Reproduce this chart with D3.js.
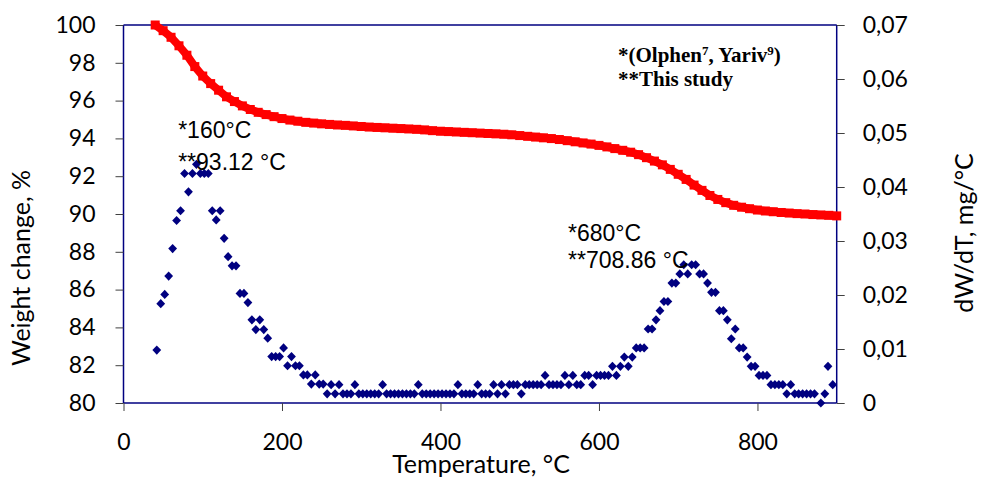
<!DOCTYPE html>
<html>
<head>
<meta charset="utf-8">
<script src="https://cdn.jsdelivr.net/npm/d3@7"></script>
<style>
body{margin:0;background:#fff}
text{fill:#000}
</style>
</head>
<body>
<svg id="chart" width="982" height="483"></svg>
<script>
// weight curve (TG), every 10 °C
var tgTemp = [40,50,60,70,80,90,100,110,120,130,
  140,150,160,170,180,190,200,210,220,230,
  240,250,260,270,280,290,300,310,320,330,
  340,350,360,370,380,390,400,410,420,430,
  440,450,460,470,480,490,500,510,520,530,
  540,550,560,570,580,590,600,610,620,630,
  640,650,660,670,680,690,700,710,720,730,
  740,750,760,770,780,790,800,810,820,830,
  840,850,860,870,880,890,900]
var tgWeight = [100.0,99.7,99.35,98.9,98.4,97.8,97.3,96.9,96.55,96.2,
  95.95,95.72,95.53,95.38,95.26,95.15,95.05,94.97,94.91,94.85,
  94.81,94.77,94.74,94.71,94.69,94.66,94.63,94.6,94.58,94.56,
  94.54,94.52,94.5,94.48,94.45,94.41,94.38,94.36,94.34,94.32,
  94.3,94.28,94.26,94.24,94.22,94.19,94.15,94.11,94.07,94.03,
  93.99,93.94,93.88,93.82,93.76,93.7,93.63,93.55,93.46,93.37,
  93.27,93.14,92.98,92.8,92.6,92.36,92.1,91.83,91.53,91.25,
  90.98,90.77,90.6,90.46,90.36,90.28,90.21,90.16,90.12,90.08,
  90.05,90.02,90.0,89.97,89.95,89.93,89.9]

// derivative (DTG), mg/°C
var dtgTemp = [42,47,52,57,62,67,72,77,82,87,
  92,97,102,107,112,117,122,127,132,137,
  142,147,152,157,162,167,172,177,182,187,
  192,197,202,207,212,217,222,227,232,237,
  242,247,252,257,262,267,272,277,282,287,
  292,297,302,307,312,317,322,327,332,337,
  342,347,352,357,362,367,372,377,382,387,
  392,397,402,407,412,417,422,427,432,437,
  442,447,452,457,462,467,472,477,482,487,
  492,497,502,507,512,517,522,527,532,537,
  542,547,552,557,562,567,572,577,582,587,
  592,597,602,607,612,617,622,627,632,637,
  642,647,652,657,662,667,672,677,682,687,
  692,697,702,707,712,717,722,727,732,737,
  742,747,752,757,762,767,772,777,782,787,
  792,797,802,807,812,817,822,827,832,837,
  842,847,852,857,862,867,872,880,885,889,895]
var dtgRate = [.0098,.0184,.0201,.0235,.0286,.0338,.0356,.0425,.0391,.0425,
  .0442,.0425,.0425,.0425,.0356,.0339,.0356,.0305,.0271,.0254,
  .0254,.0203,.0203,.0186,.0154,.0136,.0154,.0136,.0120,.0086,
  .0086,.0086,.0102,.0069,.0086,.0069,.0069,.0052,.0052,.0035,
  .0052,.0035,.0035,.0017,.0034,.0017,.0034,.0017,.0017,.0017,
  .0034,.0017,.0017,.0017,.0017,.0017,.0017,.0034,.0017,.0017,
  .0017,.0017,.0017,.0017,.0017,.0017,.0034,.0017,.0017,.0017,
  .0017,.0017,.0017,.0017,.0017,.0017,.0034,.0017,.0017,.0017,
  .0017,.0034,.0017,.0017,.0017,.0034,.0017,.0034,.0017,.0034,
  .0034,.0034,.0017,.0034,.0034,.0034,.0034,.0034,.0051,.0034,
  .0034,.0034,.0034,.0051,.0034,.0051,.0034,.0034,.0051,.0051,
  .0034,.0051,.0051,.0051,.0051,.0068,.0051,.0068,.0085,.0068,
  .0085,.0102,.0102,.0102,.0137,.0137,.0154,.0171,.0188,.0188,
  .0222,.0222,.0239,.0256,.0239,.0256,.0256,.0239,.0239,.0222,
  .0205,.0205,.0171,.0171,.0154,.0119,.0137,.0102,.0102,.0085,
  .0068,.0068,.0051,.0051,.0051,.0034,.0034,.0034,.0034,.0017,
  .0034,.0017,.0017,.0017,.0017,.0017,.0017,0,.0017,.0068,.0034]

var xTicks = [0,200,400,600,800]
var leftTicks = [80,82,84,86,88,90,92,94,96,98,100]
var rightTicks = [0,0.01,0.02,0.03,0.04,0.05,0.06,0.07]

// peak notes, anchored in data units (°C, weight %)
var peakNotes = [
  {t: 69, w: 94.02, text: "*160°C"},
  {t: 69, w: 92.35, text: "**93.12 °C"},
  {t: 561, w: 88.55, text: "*680°C"},
  {t: 561, w: 87.15, text: "**708.86 °C"}
]

var svg = d3.select("#chart")
var navy = "#000080"
var tickFont = "Lato, 'Open Sans', sans-serif"

var x = d3.scaleLinear().domain([0, 900]).range([123.5, 836.7])
var yL = d3.scaleLinear().domain([80, 100]).range([403, 25])
var yR = d3.scaleLinear().domain([0, 0.07]).range([403, 25])

//axes
var gx = svg.append("g").attr("transform", "translate(0,403)")
  .call(d3.axisBottom(x).tickValues(xTicks).tickSize(8).tickPadding(23).tickFormat(d3.format("d")))
var gl = svg.append("g").attr("transform", "translate(123.5,0)")
  .call(d3.axisLeft(yL).tickValues(leftTicks).tickSize(8).tickPadding(20).tickFormat(d3.format("d")))
var gr = svg.append("g").attr("transform", "translate(836.7,0)")
  .call(d3.axisRight(yR).tickValues(rightTicks).tickSize(8).tickPadding(18)
    .tickFormat(function(d){ return d == 0 ? "0" : d.toFixed(2).replace(".", ",") }))

;[gx, gl, gr].forEach(function(g){
  g.select(".domain").attr("stroke", navy).attr("stroke-width", 1.5)
  g.selectAll(".tick line").attr("stroke", "#404040")
  g.selectAll(".tick text").style("font-family", tickFont).style("font-size", "23px").attr("fill", "#000")
})
gx.select(".domain").attr("d", "M123.5,0H836.7")
gl.select(".domain").attr("d", "M0,25V403")
gr.select(".domain").attr("d", "M0,25V403")

svg.append("line")
  .attr("x1", x(0)).attr("x2", x(900))
  .attr("y1", yL(100)).attr("y2", yL(100))
  .attr("stroke", navy).attr("stroke-width", 1.5)

// titles
svg.append("text").attr("x", 481).attr("y", 473).attr("text-anchor", "middle")
  .style("font-family", tickFont).style("font-size", "25px").text("Temperature, °C")
svg.append("text").attr("transform", "translate(30,268) rotate(-90)").attr("text-anchor", "middle")
  .style("font-family", tickFont).style("font-size", "25px").text("Weight  change, %")
svg.append("text").attr("transform", "translate(973,233) rotate(-90)").attr("text-anchor", "middle")
  .style("font-family", tickFont).style("font-size", "25px").text("dW/dT, mg/°C")

// DTG diamonds
var dtg = dtgTemp.map(function(t, i){ return {t: t, v: dtgRate[i]} })
svg.append("g").selectAll("path").data(dtg).enter()
  .append("path")
  .attr("d", "M0,-4.6L4.4,0L0,4.6L-4.4,0Z")
  .attr("fill", navy)
  .attr("transform", function(d){ return "translate(" + x(d.t) + "," + yR(d.v) + ")" })

// TG squares
var tg = tgTemp.map(function(t, i){ return {t: t, w: tgWeight[i]} })
svg.append("path").datum(tg)
  .attr("fill", "none").attr("stroke", "#ff0000").attr("stroke-width", 8)
  .attr("d", d3.line().x(function(d){ return x(d.t) }).y(function(d){ return yL(d.w) }))
svg.append("g").selectAll("rect").data(tg).enter()
  .append("rect")
  .attr("x", function(d){ return x(d.t) - 4.5 })
  .attr("y", function(d){ return yL(d.w) - 4.5 })
  .attr("width", 9).attr("height", 9)
  .attr("fill", "#ff0000")

// peak labels
svg.append("g").selectAll("text").data(peakNotes).enter()
  .append("text")
  .attr("x", function(d){ return x(d.t) })
  .attr("y", function(d){ return yL(d.w) })
  .style("font-family", "'Liberation Sans', Arial, sans-serif")
  .style("font-size", "23px")
  .text(function(d){ return d.text })

// source note
var note = svg.append("text").attr("x", 618).attr("y", 62)
  .style("font-family", "'Liberation Serif', 'Times New Roman', serif")
  .style("font-size", "21px").style("font-weight", "bold")
note.append("tspan").text("*(Olphen")
note.append("tspan").attr("dy", -7).style("font-size", "13px").text("7")
note.append("tspan").attr("dy", 7).text(", Yariv")
note.append("tspan").attr("dy", -7).style("font-size", "13px").text("9")
note.append("tspan").attr("dy", 7).text(")")
svg.append("text").attr("x", 618).attr("y", 86)
  .style("font-family", "'Liberation Serif', 'Times New Roman', serif")
  .style("font-size", "21px").style("font-weight", "bold")
  .text("**This study")
</script>
</body>
</html>
